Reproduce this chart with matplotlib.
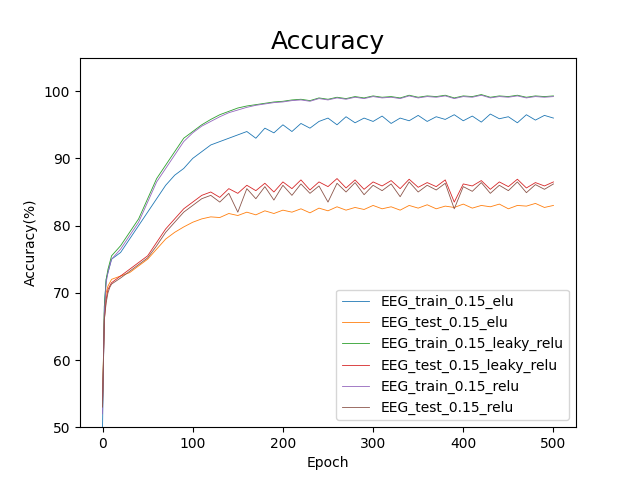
import numpy as np
import matplotlib.pyplot as plt

epochs = [0, 2, 4, 6, 8] + list(range(10, 510, 10))

train_elu = [50, 68, 72, 73, 74, 75, 76, 78, 80, 82, 84,
             86, 87.5, 88.5, 90, 91, 92, 92.5, 93, 93.5, 94, 93,
             94.5, 93.8, 95, 94, 95.2, 94.5, 95.5, 96, 95, 96.2,
             95.3, 96, 95.5, 96.3, 95.2, 96, 95.6, 96.4, 95.5, 96.2,
             95.8, 96.5, 95.6, 96.3, 95.4, 96.6, 95.9, 96.2, 95.3, 96.5, 95.7, 96.4, 96]
test_elu = [54, 67, 70, 71, 71.5, 72, 72.5, 73, 74, 75, 76.5,
            78, 79, 79.8, 80.5, 81, 81.3, 81.2, 81.8, 81.5, 82, 81.6,
            82.2, 81.8, 82.3, 82, 82.5, 81.9, 82.6, 82.2, 82.8, 82.3,
            82.7, 82.4, 83, 82.5, 82.8, 82.3, 83, 82.6, 83.1, 82.5,
            82.9, 82.7, 83.2, 82.6, 83, 82.8, 83.2, 82.5, 83, 82.9, 83.3, 82.7, 83]
train_leaky = [53, 68, 72, 73.5, 74.5, 75.5, 77, 79, 81, 84, 87,
               89, 91, 93, 94, 95, 95.8, 96.5, 97, 97.5, 97.8, 98,
               98.2, 98.4, 98.5, 98.7, 98.8, 98.6, 99, 98.8, 99.1, 98.9,
               99.2, 99, 99.3, 99.1, 99.2, 99, 99.4, 99.1, 99.3, 99.2,
               99.4, 99, 99.3, 99.2, 99.5, 99.1, 99.3, 99.2, 99.4, 99.1, 99.3, 99.2, 99.3]
test_leaky = [54, 66, 69, 70.5, 71, 71.5, 72.5, 73.5, 74.5, 75.5, 77.5,
              79.5, 81, 82.5, 83.5, 84.5, 85, 84.2, 85.5, 84.8, 86, 85.2,
              86.3, 85, 86.5, 85.5, 86.8, 85.3, 86.5, 85.8, 87, 85.6,
              86.8, 85.4, 86.5, 85.9, 86.7, 85.5, 86.9, 85.7, 86.4, 85.8,
              86.8, 83.5, 86.2, 85.9, 86.7, 85.4, 86.5, 85.8, 86.9, 85.6, 86.4, 85.9, 86.5]
train_relu = [52, 67, 71.5, 73, 74, 75, 76.5, 78.5, 80.5, 83.5, 86.5,
              88.5, 90.5, 92.5, 93.8, 94.8, 95.5, 96.2, 96.8, 97.2, 97.6, 97.9,
              98.1, 98.3, 98.4, 98.6, 98.7, 98.5, 98.9, 98.7, 99, 98.8,
              99.1, 98.9, 99.2, 99, 99.1, 98.9, 99.3, 99, 99.2, 99.1,
              99.3, 98.9, 99.2, 99.1, 99.4, 99, 99.2, 99.1, 99.3, 99, 99.2, 99.1, 99.2]
test_relu = [53, 66, 68.5, 70, 70.8, 71.3, 72.2, 73.2, 74.2, 75.2, 77,
             79, 80.5, 82, 83, 84, 84.5, 83.5, 84.8, 82, 85.5, 84,
             85.8, 83.8, 86, 84.5, 86.2, 84.8, 85.9, 83.5, 86.3, 85,
             86.4, 84.6, 86, 85.2, 86.2, 84.3, 86.5, 85, 86, 85.3,
             86.3, 82.5, 85.8, 85.1, 86.4, 84.8, 86, 85.2, 86.5, 84.9, 86.1, 85.4, 86.2]

series = [("EEG_train_0.15_elu", train_elu), ("EEG_test_0.15_elu", test_elu),
          ("EEG_train_0.15_leaky_relu", train_leaky), ("EEG_test_0.15_leaky_relu", test_leaky),
          ("EEG_train_0.15_relu", train_relu), ("EEG_test_0.15_relu", test_relu)]

fig, ax = plt.subplots(figsize=(6.4, 4.8), dpi=100)
for i, (name, vals) in enumerate(series):
    ax.plot(epochs, vals, color="C%d" % i, lw=0.6, label=name)
ax.set_ylim(50, 105)
ax.set_xlim(-25, 525)
ax.set_yticks(np.arange(50, 101, 10))
ax.set_title("Accuracy", fontsize=18)
ax.set_xlabel("Epoch")
ax.set_ylabel("Accuracy(%)")
ax.legend(loc="lower right")
fig.savefig("out.png")
